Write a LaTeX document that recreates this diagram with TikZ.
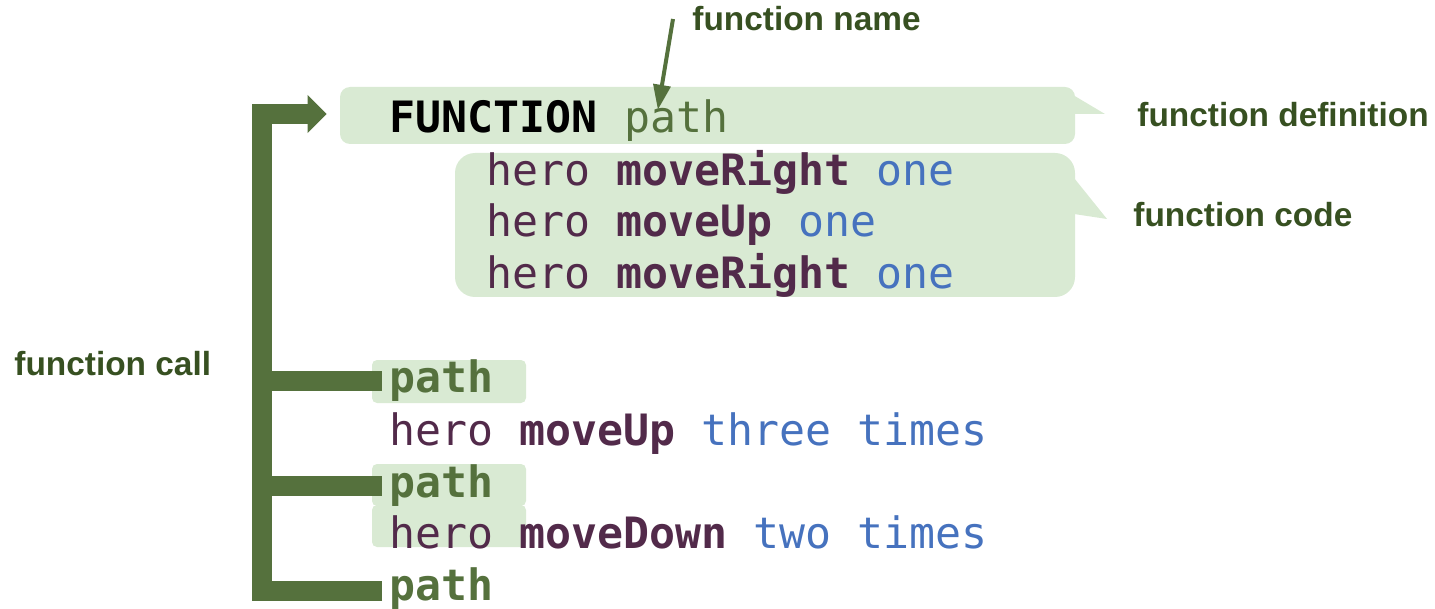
\documentclass[tikz,border=0pt]{standalone}
\usepackage{fontspec}
\newfontfamily\codefont{DejaVu Sans Mono}
\newfontfamily\notefont{Liberation Sans}
\usetikzlibrary{arrows.meta, positioning, calc}
\definecolor{boxgreen}{RGB}{217,234,211}
\definecolor{bargreen}{RGB}{85,113,61}
\definecolor{notegreen}{RGB}{55,80,33}
\definecolor{codepurple}{RGB}{82,42,74}
\definecolor{codeblue}{RGB}{70,114,190}
\tikzset{
    codeline/.style={anchor=base west, inner sep=0pt, text=codepurple, font={\codefont\fontsize{21.6}{26}\selectfont}},
    callname/.style={codeline, inner xsep=3.5pt, text=bargreen, font={\codefont\bfseries\fontsize{21.6}{26}\selectfont}},
    note/.style={anchor=base west, inner sep=0pt, text=notegreen, font={\notefont\bfseries\fontsize{16.7}{20}\selectfont}},
    hlbox/.style={fill=boxgreen, rounded corners=#1, inner sep=0pt},
    callbar/.style={draw=bargreen, line width=10pt},
    namearrow/.style={draw=bargreen, line width=2pt, -{Triangle[length=12.5pt, width=8.5pt]}}
}

\begin{document}
\begin{tikzpicture}[x=0.5pt, y=-0.5pt]
\useasboundingbox (0,0) rectangle (1435,609);

% callout boxes
\node[hlbox=5pt, minimum width=367.5pt, minimum height=28.5pt] (defbox) at (707.5,115.5) {};
\fill[boxgreen] (1068,92) -- (1105,114) -- (1074,114) -- cycle;
\node[hlbox=10pt, minimum width=310pt, minimum height=72pt] (codebox) at (765,225) {};
\fill[boxgreen] (1066,168) -- (1107,219) -- (1074,214) -- cycle;
\fill[boxgreen, rounded corners=2.5pt] (372,360) rectangle (526,403);
\fill[boxgreen, rounded corners=2.5pt] (372,464) rectangle (526,506);
\fill[boxgreen, rounded corners=2.5pt] (372,505) rectangle (526,547);

% function definition
\node[codeline, text=black, font={\codefont\bfseries\fontsize{21.6}{26}\selectfont}] (kw) at (389,133) {FUNCTION};
\node[codeline, text=bargreen] (defname) at ([xshift=13pt]kw.base east) {path};
\node[codeline] (code1) at (486,186) {hero \textbf{moveRight} \textcolor{codeblue}{one}};
\node[codeline] (code2) at (486,237) {hero \textbf{moveUp} \textcolor{codeblue}{one}};
\node[codeline] (code3) at (486,289) {hero \textbf{moveRight} \textcolor{codeblue}{one}};

% main program
\node[callname] (call1) at (382,393) {path};
\node[codeline] (main1) at (389,445) {hero \textbf{moveUp} \textcolor{codeblue}{three times}};
\node[callname] (call2) at (382,497) {path};
\node[codeline] (main2) at (389,548) {hero \textbf{moveDown} \textcolor{codeblue}{two times}};
\node[callname] (call3) at (382,600) {path};

% notes
\node[note, anchor=west, inner xsep=9.5pt] (fname) at (673,19) {function name};
\node[note] (fdef) at (1137,127) {function definition};
\node[note] (fcode) at (1133,227) {function code};
\node[note] (fcall) at (14,375) {function call};

\draw[namearrow] (fname.west) -- ($(defname.north west)+(34,10)$);

% call bar
\coordinate (b1) at (262,381);
\coordinate (b2) at (262,486);
\coordinate (b3) at (262,591);
\coordinate (btop) at (262,114);
\draw[callbar] (b1) -- (b1 -| call1.west);
\draw[callbar] (b2) -- (b2 -| call2.west);
\draw[callbar, -{Triangle[length=9.5pt, width=18.5pt]}, shorten >=6.5pt] (b3 -| call3.west) -- (b3) -- (btop) -- (btop -| defbox.west);

\end{tikzpicture}
\end{document}
